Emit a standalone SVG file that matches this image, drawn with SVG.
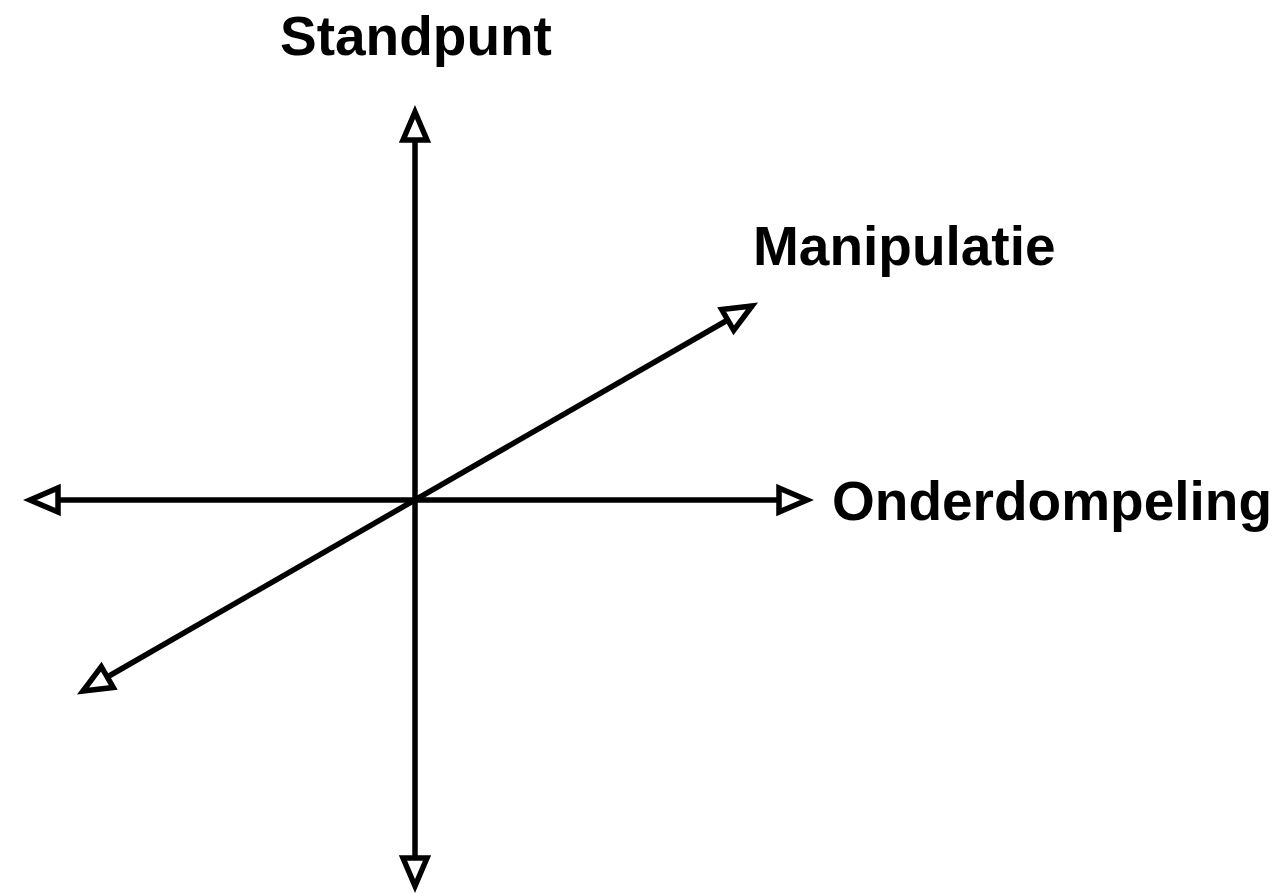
<svg xmlns="http://www.w3.org/2000/svg" width="1284" height="893" viewBox="0 0 1284 893">
<style>
.ax{stroke:#000;stroke-width:5.5;fill:none;marker-start:url(#ah);marker-end:url(#ah)}
.lbl{font-family:"Liberation Sans",Arial,sans-serif;font-weight:bold;font-size:55px;fill:#000}
</style>
<defs>
<marker id="ah" markerUnits="userSpaceOnUse" viewBox="-6 -20 42 40" markerWidth="42" markerHeight="40" refX="28" refY="0" orient="auto-start-reverse">
<path d="M0,-12 L28,0 L0,12 Z" fill="#fff" stroke="#000" stroke-width="5.5" stroke-linejoin="miter"/>
</marker>
</defs>
<rect width="1284" height="893" fill="#fff"/>
<g id="connectors">
<line class="ax" x1="415" y1="886" x2="415" y2="112"/>
<line class="ax" x1="30" y1="500" x2="807" y2="500"/>
<line class="ax" x1="83" y1="691" x2="752" y2="306"/>
</g>
<g id="standpunt"><text class="lbl" x="280" y="55">Standpunt</text></g>
<g id="manipulatie"><text class="lbl" x="753" y="265">Manipulatie</text></g>
<g id="onderdompeling"><text class="lbl" x="832" y="520">Onderdompeling</text></g>
</svg>
